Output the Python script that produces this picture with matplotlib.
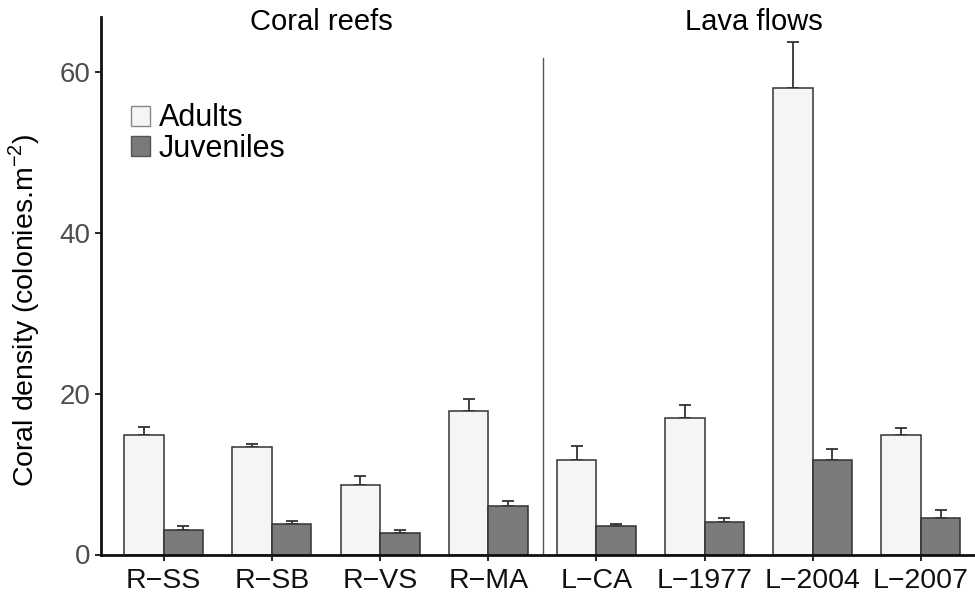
"""Coral density of adults and juveniles on reefs and lava flows."""
import numpy as np
import matplotlib
matplotlib.use("Agg")
import matplotlib.pyplot as plt
from matplotlib.patches import Patch

sites = ["R\u2212SS", "R\u2212SB", "R\u2212VS", "R\u2212MA",
         "L\u2212CA", "L\u22121977", "L\u22122004", "L\u22122007"]
adults = [14.9, 13.4, 8.6, 17.8, 11.7, 17.0, 58.1, 14.9]
adults_err = [1.0, 0.3, 1.2, 1.6, 1.8, 1.6, 5.7, 0.8]
juveniles = [3.0, 3.8, 2.7, 6.0, 3.5, 4.1, 11.7, 4.6]
juveniles_err = [0.5, 0.35, 0.35, 0.7, 0.25, 0.4, 1.4, 1.0]
groups = ["Coral reefs", "Lava flows"]

plt.rcParams["font.family"] = ["Liberation Sans", "DejaVu Sans"]
plt.rcParams["mathtext.fontset"] = "custom"
plt.rcParams["mathtext.rm"] = "Liberation Sans"

W, H, dpi = 975, 597, 100
fig = plt.figure(figsize=(W / dpi, H / dpi), dpi=dpi)
ax = fig.add_axes([101 / W, (H - 554.5) / H, (W - 101) / W, (554.5 - 17) / H])

x = np.arange(1, len(sites) + 1)
bw = 0.365
edge = "#333333"
ax.bar(x - bw / 2, adults, bw, color="#f5f5f5", edgecolor=edge, linewidth=1.1,
       zorder=2)
ax.bar(x + bw / 2, juveniles, bw, color="#7a7a7a", edgecolor=edge, linewidth=1.1,
       zorder=2)
ax.errorbar(x - bw / 2, adults, yerr=[np.zeros(len(x)), adults_err], fmt="none",
            ecolor="#333333", elinewidth=1.3, capsize=4.5, capthick=1.3, zorder=1)
ax.errorbar(x + bw / 2, juveniles, yerr=[np.zeros(len(x)), juveniles_err], fmt="none",
            ecolor="#333333", elinewidth=1.3, capsize=4.5, capthick=1.3, zorder=1)

# separator between habitats
ax.plot([4.51, 4.51], [0, 61.8], color="#555555", linewidth=1.0)

ax.text(2.46, 66.3, groups[0], ha="center", va="center", fontsize=21)
ax.text(6.46, 66.3, groups[1], ha="center", va="center", fontsize=21)

ax.set_xlim(0.42, 8.5)
ax.set_ylim(0, 66.9)
ax.set_xticks(x)
ax.set_xticklabels(sites, fontsize=20.5, color="#111111")
ax.set_yticks([0, 20, 40, 60])
ax.tick_params(axis="y", labelsize=20, labelcolor="#4d4d4d", length=4, width=1.2)
ax.tick_params(axis="x", length=4, width=1.2, pad=6)
for side in ["top", "right"]:
    ax.spines[side].set_visible(False)
for side in ["left", "bottom"]:
    ax.spines[side].set_linewidth(2.0)
    ax.spines[side].set_color("#111111")
ax.set_ylabel(r"Coral density (colonies.m$^{\mathregular{-2}}$)", fontsize=20.5)
ax.yaxis.set_label_coords(-0.067, 0.455)

handles = [Patch(facecolor="#f5f5f5", edgecolor="#888888", label="Adults"),
           Patch(facecolor="#7a7a7a", edgecolor="#555555", label="Juveniles")]
ax.legend(handles=handles, loc="upper left", bbox_to_anchor=(0.020, 0.862),
          frameon=False, fontsize=22, handlelength=0.62, handleheight=0.62,
          handletextpad=0.3, labelspacing=0.02, borderaxespad=0)

fig.savefig("out.png", dpi=dpi)
